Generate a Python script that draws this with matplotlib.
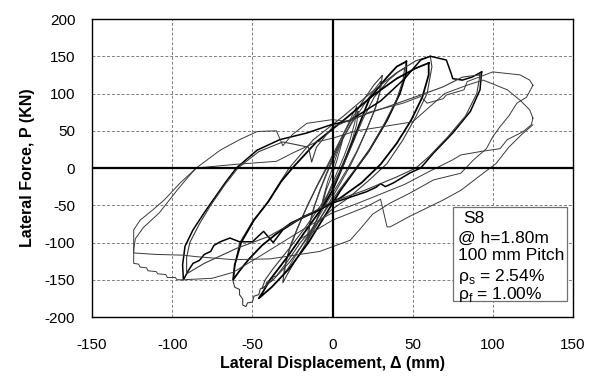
import matplotlib
matplotlib.use('Agg')
import matplotlib.pyplot as plt
from matplotlib.patches import Rectangle

plt.rcParams['font.family'] = ['Liberation Sans', 'DejaVu Sans']
plt.rcParams['mathtext.fontset'] = 'custom'
plt.rcParams['mathtext.rm'] = 'Liberation Sans'
plt.rcParams['axes.unicode_minus'] = False

# Ciclos (deslocamento em mm, força em kN)
c0_d = [0, 3, 7, 6, 3, 0, -4, -7, -6, -3, 0]
c0_f = [0, 20, 45, 35, 12, -8, -30, -55, -42, -18, 0]

c1a_d = [15, 14, 11, 7, 3, -3, -9, -13, -16, -15, -12, -8, -4, 0, 5, 10, 13, 15]
c1a_f = [82, 62, 38, 15, -5, -35, -65, -85, -101, -80, -55, -30, -8, 12, 38, 60, 74, 82]
c1b_d = [16, 15, 12, 8, 4, -2, -8, -12, -15, -14, -11, -7, -3, 1, 6, 11, 14, 16]
c1b_f = [76, 58, 36, 14, -6, -32, -60, -80, -93, -74, -50, -26, -5, 14, 38, 58, 69, 76]

c2a_d = [31, 30, 27, 22, 16, 11, 5, -3, -12, -22, -28, -31, -30, -27, -22, -16, -10, -4, 3, 11, 19, 26, 31]
c2a_f = [124, 105, 82, 55, 25, 3, -20, -50, -85, -120, -142, -154, -135, -110, -82, -52, -25, 0, 30, 62, 90, 112, 124]
c2b_d = [30, 29, 26, 21, 15, 10, 4, -4, -13, -22, -27, -30, -29, -26, -21, -15, -9, -3, 4, 12, 20, 26, 30]
c2b_f = [116, 98, 76, 50, 22, 2, -20, -48, -82, -114, -132, -142, -125, -102, -76, -48, -22, 2, 30, 60, 86, 105, 116]

c3a_d = [46, 46, 42, 34, 23, 15, 5, -5, -15, -27, -38, -46, -43, -39, -28, -18, -6, 0, 5, 11, 17, 23, 34, 40, 46]
c3a_f = [143, 127, 100, 64, 24, 0, -30, -65, -100, -135, -160, -175, -165, -150, -119, -88, -52, -30, -5, 27, 60, 93, 122, 136, 143]
c3b_d = [45, 44, 40, 32, 22, 14, 4, -6, -16, -27, -37, -44, -42, -37, -27, -17, -6, 1, 7, 13, 19, 26, 35, 41, 45]
c3b_f = [134, 118, 92, 58, 20, -2, -30, -62, -95, -127, -150, -162, -150, -135, -108, -80, -46, -22, 5, 35, 66, 95, 118, 129, 134]

c4a_d = [61, 62, 59, 52, 44, 34, 23, 10, 0, -10, -20, -28, -35, -37, -38, -41, -42, -45, -46, -49,
         -50, -53, -54, -56, -56, -58, -58, -61, -62, -61, -58, -50, -41, -33, -27, -12, 7, 25, 40, 52, 61]
c4a_f = [150, 136, 100, 69, 38, 6, -16, -40, -55, -75, -100, -125, -145, -146, -152, -153, -160, -162, -170, -172,
         -180, -181, -186, -184, -176, -170, -163, -160, -152, -132, -101, -72, -48, -20, 0, 38, 70, 103, 128, 144, 150]
c4b_d = [60, 60, 56, 49, 40, 30, 18, 5, -10, -26, -36, -44, -52, -58, -62, -61, -57, -49, -40, -32, -25, -10, 8, 25, 40, 52, 60]
c4b_f = [141, 125, 95, 64, 33, 5, -20, -40, -58, -74, -90, -104, -122, -138, -150, -130, -100, -70, -45, -18, 0, 35, 66, 97, 120, 134, 141]

c5a_d = [93, 92, 86, 75, 63, 55, 48, 38, 33, 30, 27, 21, 0, -10, -18, -31, -37, -43, -50, -58, -64, -70,
         -74, -76, -80, -83, -87, -90, -93, -93.5, -92, -87, -80, -74.5, -67, -60, -47, -33, -16, -1, 11,
         30, 45, 55, 61, 71, 74, 75, 81, 87, 93]
c5a_f = [129, 105, 76, 47, 20, 0, -7, -20, -25, -21, -26, -32, -47, -58, -65, -83, -100, -85, -99, -99, -94, -99,
         -104, -112, -116, -124, -128, -138, -150, -130, -105, -83, -60, -43, -20, 0, 24, 38, 47, 58, 64,
         90, 120, 145, 150, 145, 127, 120, 118, 122, 129]
c5b_d = [92, 90, 83, 72, 60, 52, 40, 20, 0, -20, -40, -60, -80, -91, -91, -89, -83, -76, -67, -59, -46, -31,
         -15, -13, -10, 0, 15, 34, 55, 69, 81, 92]
c5b_f = [125, 100, 70, 42, 15, 0, -12, -30, -45, -68, -92, -108, -128, -142, -120, -100, -75, -50, -22, 0, 22, 35,
         28, 8, 28, 55, 68, 82, 98, 109, 122, 125]

c6a_d = [125, 121, 115, 110, 104.5, 100, 96, 88, 80, 63, 48, 36, 25, 18, 11, -8, -39, -62, -85, -93, -110, -124,
         -124, -120, -112, -105, -95, -85, -70, -58, -47, -35, -31, -25, -16, 0, 10, 23, 44, 55, 59, 69,
         71, 82, 84, 100, 117, 123, 125]
c6a_f = [111, 95, 87, 70, 55.5, 42, 26, 11, -7, -16, -34, -47, -62, -80, -97, -112, -122, -123, -119, -117, -116, -114,
         -83, -70, -56, -43, -20, 0, 24, 38, 49, 50, 30, 45, 60, 65, 62, 75, 87, 96, 87, 93,
         98, 105, 116, 129, 125, 118, 111]
c6b_d = [125, 124, 119, 109, 104.5, 92, 80, 75, 60, 45, 30, 15, 0, -15, -30, -45, -62, -75, -93, -97, -98, -103,
         -104, -109, -110, -115, -116, -120, -121, -124, -124, -123, -118, -108, -97, -90, -85, -60, -35,
         -25, -10, 0, 15, 30, 50, 70, 85, 94, 109, 117, 123, 125]
c6b_f = [67, 58, 49, 38, 26, 22, 17.5, 11, -5, -22, -35, -48, -60, -78, -98, -118, -140, -148, -150, -150, -147, -147,
         -143, -142, -139, -138, -134, -133, -129, -128, -110, -95, -80, -60, -30, -12, 0, 5, 9,
         20, 35, 40, 50, 55, 62, 100, 112, 118, 105, 91, 78, 67]
c7_d = [-20, -10, 0, 21, 30, 34, 36, 48, 69, 80, 94, 102, 110, 118, 125]
c7_f = [-95, -83, -70, -52, -42, -79, -79, -65, -43, -30, -7, 6, 28, 45, 58]

ciclos = [
    (c0_d, c0_f, 0.7), (c1a_d, c1a_f, 0.7), (c1b_d, c1b_f, 0.7),
    (c2a_d, c2a_f, 0.8), (c2b_d, c2b_f, 0.7), (c3a_d, c3a_f, 1.3),
    (c3b_d, c3b_f, 0.8), (c4a_d, c4a_f, 0.8), (c4b_d, c4b_f, 1.3),
    (c5a_d, c5a_f, 1.1), (c5b_d, c5b_f, 0.8), (c6a_d, c6a_f, 0.7),
    (c6b_d, c6b_f, 0.7), (c7_d, c7_f, 0.7),
]

fig = plt.figure(figsize=(5.96, 3.85), dpi=100)
ax = fig.add_axes([0.1544, 0.1766, 0.807, 0.774])

for d, f, lw in ciclos:
    cor = 'black' if lw > 1 else '#3a3a3a'
    ax.plot(d, f, color=cor, lw=lw, zorder=3)

ax.axhline(0, color='black', lw=1.6, zorder=4)
ax.axvline(0, color='black', lw=1.6, zorder=4)

ax.set_xlim(-150, 150)
ax.set_ylim(-200, 200)
ax.set_xticks(range(-150, 151, 50))
ax.set_yticks(range(-200, 201, 50))
ax.grid(True, ls=(0, (3, 2)), color='#808080', lw=0.7)
ax.tick_params(length=0, labelsize=11)
ax.tick_params(axis='x', pad=15)
ax.tick_params(axis='y', pad=12)
for s in ax.spines.values():
    s.set_linewidth(1.0)

ax.set_xlabel('Lateral Displacement, Δ (mm)', fontsize=11.5, fontweight='bold', labelpad=3)
ax.set_ylabel('Lateral Force, P (KN)', fontsize=11.5, fontweight='bold', labelpad=7)

# Caixa de legenda
ax.add_patch(Rectangle((0.75, 0.054), 0.237, 0.314, transform=ax.transAxes,
                       facecolor='white', edgecolor='#707070', lw=0.9, zorder=5))
linhas = ['S8', '@ h=1.80m', '100 mm Pitch', r'ρ$_\mathrm{s}$ = 2.54%', r'ρ$_\mathrm{f}$ = 1.00%']
ys = [0.332, 0.265, 0.205, 0.135, 0.074]
xs = [0.771, 0.76, 0.76, 0.76, 0.76]
for txt, xx, yy in zip(linhas, xs, ys):
    ax.text(xx, yy, txt, transform=ax.transAxes, fontsize=12.5, va='center', ha='left', zorder=6)

fig.savefig('out.png', dpi=100)
